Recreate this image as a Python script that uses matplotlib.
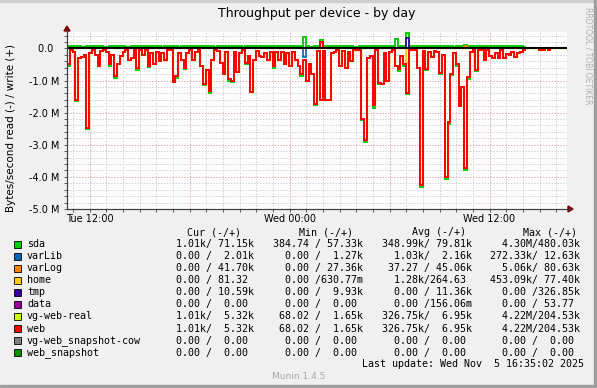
import matplotlib.pyplot as plt
import matplotlib.patches as patches
import numpy as np

W, H = 597, 388

# time axis in hours since Tue 00:00, one value every 10 minutes
t_start = 10.65
step = 1 / 6

# web read, MB/s (drawn negative)
web_read = [
    -0.5, -0.05, -0.12, -1.6, -0.3, -0.28, -0.2, -2.47, -0.15, -0.05, -0.2, -0.56,
    -0.08, -0.05, -0.1, -0.5, -0.2, -0.87, -0.5, -0.25, -0.1, -0.05, -0.35, -0.3,
    -0.05, -0.6, -0.05, -0.2, -0.05, -0.55, -0.15, -0.5, -0.1, -0.4, -0.15, -0.35,
    -0.05, -0.05, -1.06, -0.87, -0.15, -0.35, -0.6, -0.15, -0.05, -0.35, -0.1, -0.05,
    -0.55, -1.1, -0.66, -1.33, -0.35, -0.05, -0.08, -0.45, -0.8, -0.1, -0.95, -1.0,
    -0.12, -0.75, -0.15, -0.05, -0.45, -0.25, -1.35, -0.35, -0.08, -0.25, -0.28, -0.15,
    -0.35, -0.1, -0.55, -0.1, -0.35, -0.1, -0.5, -0.15, -0.55, -0.1, -0.35, -0.55,
    -0.8, -0.35, -1.0, -0.5, -0.8, -1.72, -0.08, -1.62, -0.08, -1.62, -1.62, -0.15,
    -0.1, -0.05, -0.55, -0.08, -0.6, -0.12, -0.4, -0.05, -0.05, -0.05, -2.2, -2.86,
    -0.3, -0.25, -1.76, -0.05, -1.07, -1.1, -0.15, -1.0, -0.1, -0.05, -0.55, -0.65,
    -0.25, -0.5, -1.38, -0.05, -0.05, -0.05, -0.6, -4.25, -0.08, -0.63, -0.12, -0.28,
    -0.08, -0.1, -0.76, -0.2, -4.0, -2.3, -0.8, -0.15, -0.5, -1.8, -1.2, -3.72,
    -0.9, -0.1, -0.05, -0.66, -0.05, -0.05, -0.35, -0.05, -0.25, -0.3, -0.15, -0.29,
    -0.05, -0.29, -0.16, -0.2, -0.12, -0.26, -0.14, -0.1, -0.05, 0, 0, 0,
    0, 0, -0.04, -0.04, 0, -0.05, 0, 0, 0, 0, 0, 0,
]

# sda read differs from web read only where it shows below the red line
sda_read_diff = {
    0: -0.55, 3: -1.64, 7: -2.52, 15: -0.54, 17: -0.93, 25: -0.66, 29: -0.58,
    39: -0.92, 42: -0.64, 49: -1.15, 51: -1.38, 58: -1.0, 59: -1.05, 64: -0.5,
    74: -0.6, 84: -0.85, 89: -1.77, 106: -2.22, 107: -2.92, 110: -1.84,
    112: -1.1, 119: -0.7, 121: -0.55, 122: -1.43, 127: -4.3, 129: -0.67,
    134: -0.8, 136: -4.06, 137: -2.36, 138: -0.84, 140: -0.54, 143: -3.8,
    144: -0.95, 147: -0.69,
}

sda_write = [
    0.07, 0.07, 0.07, 0.07, 0.07, 0.03, 0.03, 0.07, 0.07, 0.07, 0.07, 0.07,
    0.07, 0.03, 0.03, 0.07, 0.07, 0.07, 0.07, 0.07, 0.07, 0.03, 0.03, 0.07,
    0.07, 0.07, 0.07, 0.07, 0.07, 0.07, 0.07, 0.07, 0.07, 0.07, 0.03, 0.07,
    0.07, 0.07, 0.07, 0.07, 0.03, 0.07, 0.07, 0.07, 0.07, 0.07, 0.07, 0.07,
    0.07, 0.07, 0.07, 0.07, 0.07, 0.04, 0.07, 0.07, 0.07, 0.07, 0.07, 0.07,
    0.07, 0.07, 0.07, 0.03, 0.07, 0.07, 0.07, 0.07, 0.07, 0.07, 0.07, 0.07,
    0.07, 0.07, 0.07, 0.07, 0.07, 0.07, 0.04, 0.07, 0.07, 0.07, 0.07, 0.07,
    0.07, 0.34, 0.07, 0.04, 0.04, 0.07, 0.07, 0.26, 0.07, 0.07, 0.07, 0.07,
    0.07, 0.07, 0.07, 0.07, 0.07, 0.07, 0.07, 0.04, 0.04, 0.07, 0.07, 0.07,
    0.07, 0.07, 0.07, 0.07, 0.07, 0.07, 0.07, 0.07, 0.07, 0.07, 0.3, 0.07,
    0.07, 0.07, 0.47, 0.07, 0.07, 0.07, 0.07, 0.07, 0.07, 0.07, 0.07, 0.07,
    0.07, 0.07, 0.07, 0.07, 0.07, 0.07, 0.07, 0.04, 0.07, 0.07, 0.07, 0.11,
    0.07, 0.07, 0.07, 0.07, 0.07, 0.07, 0.07, 0.07, 0.07, 0.07, 0.07, 0.07,
    0.07, 0.07, 0.07, 0.07, 0.07, 0.07, 0.07, 0.07, 0.03, 0.02, 0.02, 0.02,
    0.02, 0.02, 0.02, 0.02, 0.02, 0.02, 0.02, 0.02, 0.02, 0.02, 0.02, 0.02,
]

# sparse spikes of the small partitions
varlib_read = {85: -0.27}
varlog_write = {143: 0.08}
home_read = {122: -0.45}
tmp_write = {122: 0.33}
web_write = {91: 0.2}

names = ['sda', 'varLib', 'varLog', 'home', 'tmp', 'data', 'vg-web-real', 'web',
         'vg-web_snapshot-cow', 'web_snapshot']
colors = ['#00CC00', '#0066B3', '#FF8000', '#FFCC00', '#330099', '#990099',
          '#CCFF00', '#FF0000', '#808080', '#008F00']
widths = [1.4, 1.2, 1.2, 1.2, 1.2, 1.2, 0.9, 1.4, 1.2, 1.2]

cur_col = ['  1.01k/ 71.15k', '  0.00 /  2.01k', '  0.00 / 41.70k', '  0.00 / 81.32 ',
           '  0.00 / 10.59k', '  0.00 /  0.00 ', '  1.01k/  5.32k', '  1.01k/  5.32k',
           '  0.00 /  0.00 ', '  0.00 /  0.00 ']
min_col = ['384.74 / 57.33k', '  0.00 /  1.27k', '  0.00 / 27.36k', '  0.00 /630.77m',
           '  0.00 /  9.93k', '  0.00 /  0.00 ', ' 68.02 /  1.65k', ' 68.02 /  1.65k',
           '  0.00 /  0.00 ', '  0.00 /  0.00 ']
avg_col = ['348.99k/ 79.81k', '  1.03k/  2.16k', ' 37.27 / 45.06k', '  1.28k/264.63 ',
           '  0.00 / 11.36k', '  0.00 /156.06m', '326.75k/  6.95k', '326.75k/  6.95k',
           '  0.00 /  0.00 ', '  0.00 /  0.00 ']
max_col = ['  4.30M/480.03k', '272.33k/ 12.63k', '  5.06k/ 80.63k', '453.09k/ 77.40k',
           '  0.00 /326.85k', '  0.00 / 53.77 ', '  4.22M/204.53k', '  4.22M/204.53k',
           '  0.00 /  0.00 ', '  0.00 /  0.00 ']

x_ticks = [12, 24, 36]
x_labels = ['Tue 12:00', 'Wed 00:00', 'Wed 12:00']


def px(x, y):
    # pixel position -> figure fraction
    return x / W, 1 - y / H


def sparse(d, n):
    a = np.zeros(n)
    for k, v in d.items():
        a[k] = v
    return a


n = len(web_read)
edges = t_start + np.arange(n + 1) * step
web_r = np.array(web_read)
sda_r = web_r.copy()
for k, v in sda_read_diff.items():
    sda_r[k] = v
zero = np.zeros(n)

series = [
    (sda_r, np.array(sda_write)),
    (sparse(varlib_read, n), zero),
    (zero, sparse(varlog_write, n)),
    (sparse(home_read, n), zero),
    (zero, sparse(tmp_write, n)),
    (zero, zero),
    (web_r, sparse(web_write, n)),
    (web_r, sparse(web_write, n)),
    (zero, zero),
    (zero, zero),
]

fig = plt.figure(figsize=(W / 100, H / 100), dpi=100, facecolor='#F0F0F0')

# 3d frame
fig.add_artist(patches.Rectangle(px(0, 2), 2 / W, (H - 2) / H, transform=fig.transFigure, color='#CFCFCF'))
fig.add_artist(patches.Rectangle(px(0, 2), 1, 2 / H, transform=fig.transFigure, color='#CFCFCF'))
fig.add_artist(patches.Rectangle(px(W - 3, H), 3 / W, 1, transform=fig.transFigure, color='#9E9E9E'))
fig.add_artist(patches.Rectangle(px(0, H), 1, 3 / H, transform=fig.transFigure, color='#9E9E9E'))

ax_left, ax_right, ax_top, ax_bot = 67, 567, 31.7, 209
ax = fig.add_axes([ax_left / W, 1 - ax_bot / H, (ax_right - ax_left) / W, (ax_bot - ax_top) / H])
ax.set_facecolor('white')
ax.set_xlim(t_start, t_start + 30)
ax.set_ylim(-5.0, 0.52)

# grid
for h in np.arange(11, 41):
    c = '#F0A8A8' if h % 6 == 0 else '#D0D0D0'
    ax.axvline(h, color=c, lw=0.7, dashes=(1.5, 1.5), zorder=0)
for v in np.arange(-5.0, 0.5, 0.2):
    c = '#F0A8A8' if abs(v - round(v)) < 1e-6 else '#D0D0D0'
    ax.axhline(v, color=c, lw=0.7, dashes=(1.5, 1.5), zorder=0)

for (rd, wr), col, lw in zip(series, colors, widths):
    ax.stairs(rd, edges, baseline=None, color=col, lw=lw, zorder=2)
    ax.stairs(wr, edges, baseline=None, color=col, lw=lw, zorder=2)
ax.axhline(0, color='black', lw=1.5, zorder=3)

ax.spines['top'].set_visible(False)
ax.spines['right'].set_visible(False)
for s in ['left', 'bottom']:
    ax.spines[s].set_color('#404040')
    ax.spines[s].set_linewidth(0.8)

ax.set_xticks(x_ticks)
ax.set_xticklabels(x_labels)
ax.set_xticks(np.arange(11, 41), minor=True)
ax.set_yticks(np.arange(-5, 1))
ax.set_yticklabels(['%.1f M' % v if v != 0 else '0.0  ' for v in np.arange(-5, 1)])
ax.set_yticks(np.arange(-5.0, 0.5, 0.2), minor=True)
ax.tick_params(which='both', direction='out', length=2.2, width=0.6, color='#404040')
ax.tick_params(axis='both', labelsize=7, pad=1.5)
ax.tick_params(axis='y', pad=3.5)

# arrows on the axes
fig.add_artist(plt.Line2D([px(67, 0)[0]] * 2, [px(0, 209)[1], px(0, 29)[1]], transform=fig.transFigure, color='#404040', lw=0.8))
fig.add_artist(plt.Line2D([px(67, 0)[0], px(571, 0)[0]], [px(0, 209)[1]] * 2, transform=fig.transFigure, color='#404040', lw=0.8))
fig.add_artist(patches.Polygon([px(64, 31), px(70, 31), px(67, 26)], transform=fig.transFigure, color='#7F0000'))
fig.add_artist(patches.Polygon([px(568, 206), px(568, 212), px(573, 209)], transform=fig.transFigure, color='#7F0000'))

fig.text(*px(317, 13), 'Throughput per device - by day', ha='center', va='center', fontsize=9)
fig.text(*px(11, 128), 'Bytes/second read (-) / write (+)', rotation=90, ha='center', va='center', fontsize=7.5)
fig.text(*px(588, 56), 'RRDTOOL / TOBI OETIKER', rotation=270, ha='center', va='center', fontsize=5.5, color='#B0B0B0')

# legend
mono = 'DejaVu Sans Mono'
fs = 7.2
for x, lab in [(186.7, 'Cur (-/+)'), (299.3, 'Min (-/+)'), (411.7, 'Avg (-/+)'), (523.3, 'Max (-/+)')]:
    fig.text(*px(x, 232.3), lab, ha='left', va='center', fontsize=fs, family=mono)
for i, name in enumerate(names):
    y = 244.3 + 12.03 * i
    fig.add_artist(patches.Rectangle(px(13.5, y + 3.5), 7 / W, 7 / H, transform=fig.transFigure,
                                     facecolor=colors[i], edgecolor='black', lw=0.6))
    fig.text(*px(27, y), name, ha='left', va='center', fontsize=fs, family=mono)
    for x, col in [(163.8, cur_col), (273.3, min_col), (381.7, avg_col), (490.4, max_col)]:
        fig.text(*px(x, y), col[i], ha='left', va='center', fontsize=fs, family=mono)
fig.text(*px(583.5, 364.3), 'Last update: Wed Nov  5 16:35:02 2025', ha='right', va='center', fontsize=fs, family=mono)
fig.text(*px(298.5, 376.5), 'Munin 1.4.5', ha='center', va='center', fontsize=6.5, color='#A8A8A8')

fig.savefig('out.png', dpi=100, facecolor=fig.get_facecolor())
